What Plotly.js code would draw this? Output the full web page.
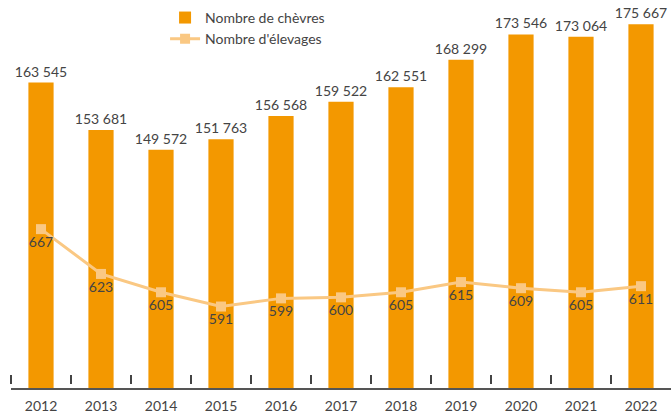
<!DOCTYPE html>
<html>
<head>
<meta charset="utf-8">
<script src="https://cdn.plot.ly/plotly-3.0.1.min.js"></script>
<style>html,body{margin:0;padding:0;background:#fff;}#chart{width:671px;height:413px;}</style>
</head>
<body>
<div id="chart"></div>
<script>
const years = ['2012','2013','2014','2015','2016','2017','2018','2019','2020','2021','2022'];
const chevres = [163545,153681,149572,151763,156568,159522,162551,168299,173546,173064,175667];
const elevages = [667,623,605,591,599,600,605,615,609,605,611];

const txt = '#444444';
const fontFam = 'Lato, "Open Sans", sans-serif';

const traces = [
  {
    type: 'bar', name: 'Nombre de chèvres', x: years, y: chevres,
    marker: {color: '#F39800'},
    texttemplate: '%{y:,}', textposition: 'outside', cliponaxis: false,
    constraintext: 'none',
    textfont: {color: txt, size: 14, family: fontFam},
    hoverinfo: 'skip'
  },
  {
    type: 'scatter', mode: 'lines+markers+text', name: "Nombre d'élevages",
    x: years, y: elevages, yaxis: 'y2',
    line: {color: '#FAC883', width: 3},
    marker: {color: '#FAC883', symbol: 'square', size: 10},
    texttemplate: '%{y}', textposition: 'bottom center',
    textfont: {color: txt, size: 14, family: fontFam},
    hoverinfo: 'skip'
  },
  {
    type: 'scatter', mode: 'lines', x: years, y: years.map(() => null),
    xaxis: 'x2', showlegend: false, hoverinfo: 'skip'
  }
];

const layout = {
  width: 671, height: 413,
  margin: {l: 0, r: 0, t: 0, b: 25},
  paper_bgcolor: '#fff', plot_bgcolor: 'rgba(0,0,0,0)',
  separators: '. ',
  bargap: 0.58,
  showlegend: true,
  font: {family: fontFam, color: txt, size: 14},
  legend: {x: 0.246, y: 0.995, xanchor: 'left', yanchor: 'top',
           font: {size: 14, color: txt, family: fontFam}, bgcolor: 'rgba(0,0,0,0)',
           tracegroupgap: 0},
  xaxis: {type: 'category', domain: [11/671, 1], range: [-0.5, 10.5], showline: true,
          linecolor: '#555', linewidth: 1.5,
          ticks: '', showgrid: false, zeroline: false, fixedrange: true, ticklabelstandoff: 5,
          tickfont: {size: 14, color: txt, family: fontFam}},
  xaxis2: {type: 'category', domain: [0, 1], anchor: 'free', position: 0.0103,
           range: [-0.5 - 11/60, 10.5], ticks: 'inside', tickson: 'boundaries', ticklen: 9,
           tickwidth: 1.3, tickcolor: '#444', showticklabels: false, showline: false,
           showgrid: false, zeroline: false},
  yaxis: {range: [100000, 180704], visible: false, showgrid: false, zeroline: false},
  yaxis2: {range: [511, 892], overlaying: 'y', side: 'right', visible: false,
           showgrid: false, zeroline: false}
};

Plotly.newPlot('chart', traces, layout, {displayModeBar: false, staticPlot: true});
</script>
</body>
</html>
